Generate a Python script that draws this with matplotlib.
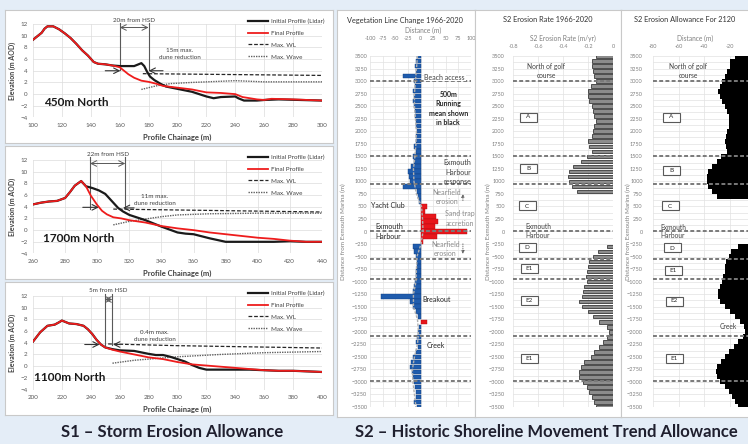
import numpy as np
import matplotlib.pyplot as plt
from matplotlib.patches import Rectangle

plt.rcParams['font.family'] = ['Lato', 'DejaVu Sans']

W, H = 748, 444

# ---------------- S1 storm erosion profiles ----------------
# 450m North
p450_init_x = [100, 103, 106, 108, 110, 114, 118, 122, 126, 130, 134, 138, 142, 145, 150, 155, 160, 165,
               170, 173, 175, 177, 179, 181, 184, 188, 192, 200, 210, 220, 225, 230, 240, 242, 246, 255,
               260, 270, 300]
p450_init_y = [9.3, 9.9, 10.5, 11.2, 11.6, 11.6, 11.1, 10.4, 9.6, 8.6, 7.5, 6.6, 5.5, 5.2, 5.1, 4.9, 4.8, 4.8,
               4.8, 5.1, 5.3, 4.8, 3.8, 3.0, 2.4, 1.8, 1.3, 0.9, 0.4, -0.4, -0.7, -0.5, -0.4, -0.7, -1.1, -1.1,
               -1.0, -0.9, -1.1]
p450_final_x = [100, 103, 106, 108, 110, 114, 118, 122, 126, 130, 134, 138, 142, 145, 150, 155, 160, 163, 166,
                170, 175, 180, 185, 190, 200, 210, 220, 230, 240, 245, 250, 255, 260, 265, 280, 300]
p450_final_y = [9.3, 9.9, 10.5, 11.2, 11.6, 11.6, 11.1, 10.4, 9.6, 8.6, 7.5, 6.6, 5.5, 5.2, 5.1, 4.9, 4.6, 4.0,
                3.4, 2.8, 2.3, 2.1, 1.8, 1.4, 1.1, 0.8, 0.3, 0.2, 0.0, -0.5, -0.7, -0.9, -1.0, -0.8, -0.9, -1.1]
p450_wl_x = [176, 300]
p450_wl_y = [3.5, 3.2]
p450_wave_x = [175, 185, 195, 210, 230, 240, 250, 260, 300]
p450_wave_y = [0.8, 1.4, 1.8, 2.0, 2.2, 2.3, 2.2, 2.1, 2.1]

# 1700m North
p1700_init_x = [260, 265, 270, 275, 280, 283, 286, 290, 293, 297, 301, 305, 309, 313, 316, 320, 330, 340, 350,
                355, 360, 370, 380, 390, 400, 410, 420, 430, 440]
p1700_init_y = [4.4, 4.7, 4.9, 5.0, 5.5, 6.5, 7.6, 8.4, 7.5, 7.2, 6.8, 6.2, 5.0, 3.8, 3.2, 2.6, 1.7, 0.6, -0.4,
                -0.6, -0.7, -1.4, -2.0, -2.0, -2.0, -2.0, -1.9, -2.0, -2.0]
p1700_final_x = [260, 265, 270, 275, 280, 283, 286, 290, 293, 296, 300, 303, 306, 310, 315, 320, 330, 340, 350,
                 360, 370, 380, 390, 400, 410, 420, 430, 440]
p1700_final_y = [4.4, 4.7, 4.9, 5.0, 5.5, 6.5, 7.6, 8.4, 7.5, 5.9, 4.3, 3.3, 2.7, 2.2, 2.0, 1.7, 1.3, 0.7, 0.3,
                 0.0, -0.4, -0.7, -1.0, -1.3, -1.5, -1.8, -2.0, -2.0]
p1700_wl_x = [310, 440]
p1700_wl_y = [3.6, 3.1]
p1700_wave_x = [310, 320, 330, 340, 350, 370, 400, 440]
p1700_wave_y = [0.9, 1.5, 1.9, 2.3, 2.6, 2.8, 2.9, 2.9]

# 1100m North
p1100_init_x = [200, 205, 210, 215, 218, 220, 225, 230, 235, 238, 241, 244, 247, 250, 255, 260, 270, 280, 285,
                290, 295, 300, 305, 310, 315, 320, 325, 340, 350, 360, 370, 380, 390, 400]
p1100_init_y = [4.2, 5.8, 6.9, 7.1, 7.5, 7.8, 7.3, 7.2, 6.9, 6.3, 5.5, 4.5, 3.7, 3.2, 2.9, 2.7, 2.6, 2.1, 1.9,
                1.9, 1.6, 1.2, 0.8, 0.2, -0.3, -0.6, -0.6, -0.6, -0.6, -0.7, -0.8, -0.8, -0.9, -1.0]
p1100_final_x = [200, 205, 210, 215, 218, 220, 225, 230, 235, 238, 241, 244, 247, 250, 255, 260, 270, 280, 290,
                 300, 310, 320, 330, 340, 350, 360, 370, 380, 390, 400]
p1100_final_y = [4.2, 5.8, 6.9, 7.1, 7.5, 7.8, 7.3, 7.2, 6.9, 6.3, 5.5, 4.5, 3.7, 3.2, 2.8, 2.5, 2.0, 1.5, 1.2,
                 0.7, 0.3, 0.1, -0.1, -0.3, -0.5, -0.7, -0.8, -0.8, -0.9, -1.0]
p1100_wl_x = [252, 300, 400]
p1100_wl_y = [3.8, 3.5, 3.1]
p1100_wave_x = [255, 270, 300, 330, 360, 400]
p1100_wave_y = [0.5, 1.0, 1.6, 2.0, 2.3, 2.5]

# ---------------- S2 shoreline trend (per 100m chainage) ----------------
chainage = np.arange(3500, -3501, -100)
veg_change = [-6, -8, -10, -9, -35, -12, -10, -14, -12, -15,
              -13, -11, -10, -9, -8, -7, -8, -9, -12, -8,
              -15, -12, -18, -25, -22, -20, -35, -6, -4, -3,
              12, 8, 30, 35, 28, 92,
              32, 4, -14, -12, -8, -6, -7, -8, -9, -10,
              -12, -15, -78, -20, -14, -8, -5, 12, -3, -4,
              -6, -9, -4, -8, -14, -18, -20, -17, -15, -12,
              -10, -8, -9, -12, -6]
mean_chainage = [3500, 3250, 3000, 2750, 2500, 2250, 2000, 1750, 1500, 1250, 1000, 750, 500, 250, 0,
                 -250, -500, -750, -1000, -1250, -1500, -1750, -2000, -2250, -2500, -2750, -3000, -3250, -3500]
mean_change = [-6, -8, -10, -12, -12, -10, -8, -9, -11, -14, -13, -8, 2, 4, 5,
               1, -7, -8, -9, -14, -14, -6, -4, -6, -12, -16, -15, -12, -9]
nan = np.nan
erosion_rate = [-0.14, -0.17, -0.17, -0.16, -0.15, -0.14, -0.18, -0.20, -0.20, -0.19,
                -0.17, -0.16, -0.15, -0.14, -0.15, -0.16, -0.17, -0.20, -0.19, -0.17,
                -0.21, -0.26, -0.32, -0.35, -0.36, -0.35, -0.33, -0.29, nan, nan,
                nan, nan, nan, nan, nan, nan,
                nan, nan, -0.05, -0.12, -0.16, -0.19, -0.20, -0.21, -0.22, -0.21,
                -0.23, -0.24, -0.25, -0.27, -0.25, -0.20, -0.16, -0.11, -0.05, -0.03,
                -0.05, -0.08, -0.11, -0.15, -0.18, -0.23, -0.26, -0.27, -0.27, -0.24,
                -0.21, -0.19, -0.17, -0.15, -0.14]
allowance_2120 = [-16, -20, -20, -22, -24, -26, -28, -29, -28, -26,
                  -24, -22, -21, -21, -21, -22, -23, -24, -23, -22,
                  -27, -30, -34, -37, -38, -38, -37, -34, -30, nan,
                  nan, nan, nan, nan, nan, nan,
                  nan, nan, -14, -19, -21, -23, -24, -24, -25, -26,
                  -28, -29, -29, -28, -24, -20, -16, -12, -9, -8,
                  -10, -14, -17, -21, -24, -27, -30, -31, -30, -28,
                  -24, -21, -18, -16, -14]
unit_lines = [3000, 1500, 950, 0, -550, -950, -2075, -2975]

fig = plt.figure(figsize=(W / 100, H / 100), dpi=100, facecolor='#e4edf7')


def px_axes(x0, y0, x1, y1):
    return fig.add_axes([x0 / W, 1 - y1 / H, (x1 - x0) / W, (y1 - y0) / H])


def ftext(x, y, s, **kw):
    kw.setdefault('ha', 'center')
    kw.setdefault('va', 'center')
    return fig.text(x / W, 1 - y / H, s, **kw)


def panel_box(x0, y0, x1, y1):
    ax = px_axes(x0, y0, x1, y1)
    ax.set_xticks([])
    ax.set_yticks([])
    ax.set_facecolor('white')
    for s in ax.spines.values():
        s.set_color('#c9c9c9')
        s.set_linewidth(0.8)
    return ax


def tag_box(x, y, s, w=17):
    fig.patches.append(Rectangle(((x - w / 2) / W, 1 - (y + 4.5) / H), w / W, 9 / H,
                                 transform=fig.transFigure, fc='white', ec='#595959', lw=0.8))
    ftext(x, y, s, fontsize=4.5, color='#262626')


def profile(y0, xlim, init, final, wl, wave, name, name_xy, hsd, hsd_top, hsd_bot, hsd_label,
            red_label, red_xy, arr_r, arr_l):
    panel_box(5, y0 - 14, 333, y0 + 119)
    ax = px_axes(33, y0, 322, y0 + 93.5)
    ax.set_facecolor('none')
    ax.plot(init[0], init[1], color='#1a1a1a', lw=1.6, label='Initial Profile (Lidar)', zorder=3)
    ax.plot(final[0], final[1], color='#ee1c1c', lw=1.3, label='Final Profile', zorder=4)
    ax.plot(wl[0], wl[1], color='#262626', lw=0.9, ls=(0, (3, 1.5)), label='Max. WL', zorder=2)
    ax.plot(wave[0], wave[1], color='#606060', lw=1.0, ls=(0, (1, 0.8)), label='Max. Wave', zorder=2)
    ax.set_xlim(xlim)
    ax.set_ylim(-4, 12)
    ax.set_xticks(np.arange(xlim[0], xlim[1] + 1, 20))
    ax.set_yticks(range(-4, 13, 2))
    ax.grid(color='#dcdcdc', lw=0.5)
    ax.set_axisbelow(True)
    ax.tick_params(length=0, labelsize=4.5, labelcolor='#595959', pad=4)
    for s in ax.spines.values():
        s.set_visible(False)
    ax.legend(loc='upper left', bbox_to_anchor=(0.743, 1.06), frameon=False, fontsize=4.5,
              handlelength=3.2, handletextpad=0.5, labelspacing=1.05, borderaxespad=0,
              borderpad=0, labelcolor='#404040')
    ax.text(name_xy[0], name_xy[1], name, fontsize=8.5, weight='bold', color='#1a1a1a', va='center')
    for xv in hsd:
        ax.plot([xv, xv], [hsd_bot, hsd_top], color='#595959', lw=0.8, clip_on=False)
    ax.annotate('', xy=(hsd[0], 11.4), xytext=(hsd[1], 11.4),
                arrowprops=dict(arrowstyle='<->', color='#595959', lw=0.7, shrinkA=0, shrinkB=0),
                annotation_clip=False)
    ax.text(sum(hsd) / 2, hsd_top + 0.5, hsd_label, fontsize=4.5, color='#404040', ha='center',
            va='center', clip_on=False)
    ax.text(red_xy[0], red_xy[1], red_label, fontsize=4.5, color='#404040', ha='center', va='center',
            linespacing=1.5)
    for start, end in (arr_r, arr_l):
        ax.annotate('', xy=end, xytext=start,
                    arrowprops=dict(arrowstyle='->', color='#333333', lw=0.8, shrinkA=0, shrinkB=0))
    ftext(177, y0 + 113, 'Profile Chainage (m)', fontsize=5.5, weight='bold', color='#404040')
    ftext(12, y0 + 47, 'Elevation (m AOD)', fontsize=5, weight='bold', color='#404040', rotation=90)
    return ax


profile(24, (100, 300), (p450_init_x, p450_init_y), (p450_final_x, p450_final_y),
        (p450_wl_x, p450_wl_y), (p450_wave_x, p450_wave_y), '450m North', (107.5, -1.5),
        (160, 180), 12.1, 4.2, '20m from HSD', '15m max.\ndune reduction', (201.7, 6.8),
        ((150, 4.0), (160.5, 4.0)), ((190, 4.0), (180, 4.0)))
profile(160, (260, 440), (p1700_init_x, p1700_init_y), (p1700_final_x, p1700_final_y),
        (p1700_wl_x, p1700_wl_y), (p1700_wave_x, p1700_wave_y), '1700m North', (266, -1.5),
        (295.5, 317.5), 12.5, 3.7, '22m from HSD', '11m max.\ndune reduction', (335.8, 5.2),
        ((291, 3.9), (301, 3.9)), ((323, 3.8), (316, 3.8)))
profile(296, (200, 400), (p1100_init_x, p1100_init_y), (p1100_final_x, p1100_final_y),
        (p1100_wl_x, p1100_wl_y), (p1100_wave_x, p1100_wave_y), '1100m North', (201, -2.0),
        (249.6, 254.9), 12.4, 3.7, '5m from HSD', '0.4m max.\ndune reduction', (284.2, 5.2),
        ((235.8, 3.7), (246.1, 3.7)), ((260, 3.7), (255.4, 3.7)))


def style_right(ax, xlim, xticks, xlabels, top_pad, left_pad):
    ax.set_facecolor('none')
    ax.set_xlim(xlim)
    ax.set_ylim(-3500, 3500)
    ax.xaxis.tick_top()
    ax.set_xticks(xticks)
    ax.set_xticklabels(xlabels)
    ax.set_yticks(range(-3500, 3501, 250))
    ax.set_yticks(range(-3500, 3501, 125), minor=True)
    ax.grid(True, which='both', color='#e2e2e2', lw=0.5)
    ax.set_axisbelow(True)
    ax.tick_params(which='both', length=0, labelsize=4, labelcolor='#7f7f7f')
    ax.tick_params(axis='x', pad=top_pad)
    ax.tick_params(axis='y', pad=left_pad)
    for s in ax.spines.values():
        s.set_visible(False)
    for yl in unit_lines:
        ax.axhline(yl, color='#7a7a7a', lw=1.4, ls=(0, (2, 1.2)), zorder=3)


# vegetation line change
panel_box(337, 10, 475, 417)
ax = px_axes(370, 56, 471, 407)
veg_colors = ['#e8161b' if v > 0 else '#1f5cad' for v in veg_change]
veg_edges = ['#b00d12' if v > 0 else '#123f7d' for v in veg_change]
ax.barh(chainage, veg_change, height=90, color=veg_colors, edgecolor=veg_edges, lw=0.3, zorder=2)
ax.plot(mean_change, mean_chainage, color='#b0b0b0', lw=1.0, ls=(0, (2, 1)), zorder=4)
style_right(ax, (-100, 100), range(-100, 101, 25), [str(v) for v in range(-100, 101, 25)], 11, 2)
ax.text(48, 3080, 'Beach access', fontsize=5, color='#404040', ha='center', va='center', zorder=5,
        bbox=dict(fc='white', ec='none', pad=0.5))
ax.text(55, 2450, '500m\nRunning\nmean shown\nin black', fontsize=5, weight='bold', color='#262626',
        ha='center', va='center', linespacing=1.4, zorder=5)
ax.text(100, 1180, 'Exmouth\nHarbour\nresponse', fontsize=5, color='#404040', ha='right', va='center',
        linespacing=1.4, zorder=5)
ax.text(52, 690, 'Nearfield\nerosion', fontsize=5, color='#8c8c8c', ha='center', va='center',
        linespacing=1.4, zorder=5)
ax.text(-64, 510, 'Yacht Club', fontsize=5, color='#262626', ha='center', va='center', zorder=5)
ax.text(78, 260, 'Sand trap\naccretion', fontsize=5, color='#8c8c8c', ha='center', va='center',
        linespacing=1.4, zorder=5)
ax.text(-90, 95, 'Exmouth', fontsize=5, color='#262626', ha='left', va='center', zorder=5)
ax.text(-90, -100, 'Harbour', fontsize=5, color='#262626', ha='left', va='center', zorder=5)
ax.text(49, -350, 'Nearfield\nerosion', fontsize=5, color='#8c8c8c', ha='center', va='center',
        linespacing=1.4, zorder=5)
ax.annotate('', xy=(84, 800), xytext=(84, 560),
            arrowprops=dict(arrowstyle='-|>', color='#595959', lw=0.6, ls=':', mutation_scale=4))
ax.annotate('', xy=(84, -500), xytext=(84, -190),
            arrowprops=dict(arrowstyle='-|>', color='#595959', lw=0.6, ls=':', mutation_scale=4))
ax.text(32, -1350, 'Breakout', fontsize=5, color='#262626', ha='center', va='center', zorder=5)
ax.text(31, -2270, 'Creek', fontsize=5, color='#262626', ha='center', va='center', zorder=5)
ftext(405, 20, 'Vegetation Line Change 1966-2020', fontsize=5.3, color='#333333')
ftext(423, 30, 'Distance (m)', fontsize=4.8, color='#7f7f7f')
ftext(343, 232, 'Distance from Exmouth Marina (m)', fontsize=4.5, color='#7f7f7f', rotation=90)

# erosion rate
panel_box(475, 10, 621, 417)
ax = px_axes(513, 56, 613, 407)
ax.barh(chainage, erosion_rate, height=70, color='#8c8c8c', edgecolor='#1e1e1e', lw=0.5, zorder=2)
style_right(ax, (-0.8, 0), [-0.8, -0.6, -0.4, -0.2, 0], ['-0.8', '-0.6', '-0.4', '-0.2', '0'], 5, 6)
ftext(548, 20, 'S2 Erosion Rate 1966-2020', fontsize=5.3, color='#333333')
ftext(563, 38, 'S2 Erosion Rate (m/yr)', fontsize=4.8, color='#7f7f7f')
ftext(488, 232, 'Distance from Exmouth Marina (m)', fontsize=4.5, color='#7f7f7f', rotation=90)
ftext(546, 71, 'North of golf\ncourse', fontsize=4.8, color='#404040', linespacing=1.3)
ftext(525, 226, 'Exmouth', fontsize=4.8, color='#404040', ha='left')
ftext(525, 235, 'Harbour', fontsize=4.8, color='#404040', ha='left')
for x, y, s in [(528, 117, 'A'), (528, 169, 'B'), (527, 206, 'C'), (527, 247, 'D'),
                (529, 268, 'E1'), (529, 300, 'E2'), (529, 358, 'E1')]:
    tag_box(x, y, s)

# erosion allowance 2120 (the 0 end of the axis runs past the picture edge)
panel_box(621, 10, 760, 417)
ax = px_axes(653, 56, 755.5, 407)
ax.barh(chainage, allowance_2120, height=100, color='black', lw=0, zorder=2)
style_right(ax, (-80, 0), [-80, -60, -40, -20, 0], ['-80', '-60', '-40', '-20', ''], 5, 7.5)
ftext(685, 20, 'S2 Erosion Allowance For 2120', fontsize=5.3, color='#333333')
ftext(695, 38, 'Distance (m)', fontsize=4.8, color='#7f7f7f')
ftext(628, 232, 'Distance from Exmouth Marina (m)', fontsize=4.5, color='#7f7f7f', rotation=90)
ftext(688, 71, 'North of golf\ncourse', fontsize=4.8, color='#404040', linespacing=1.3)
ftext(660, 227, 'Exmouth', fontsize=4.8, color='#404040', ha='left')
ftext(660, 235, 'Harbour', fontsize=4.8, color='#404040', ha='left')
ftext(728, 326, 'Creek', fontsize=4.8, color='#404040')
for x, y, s in [(671, 117, 'A'), (671, 170, 'B'), (670, 206, 'C'), (672, 248, 'D'),
                (673, 270, 'E1'), (674, 301, 'E2'), (674, 358, 'E1')]:
    tag_box(x, y, s)

ftext(172, 432, 'S1 \u2013 Storm Erosion Allowance', fontsize=12, weight='bold', color='#1f1f2e')
ftext(546, 432, 'S2 \u2013 Historic Shoreline Movement Trend Allowance', fontsize=12, weight='bold',
      color='#1f1f2e')

fig.savefig('out.png', dpi=100, facecolor=fig.get_facecolor())
